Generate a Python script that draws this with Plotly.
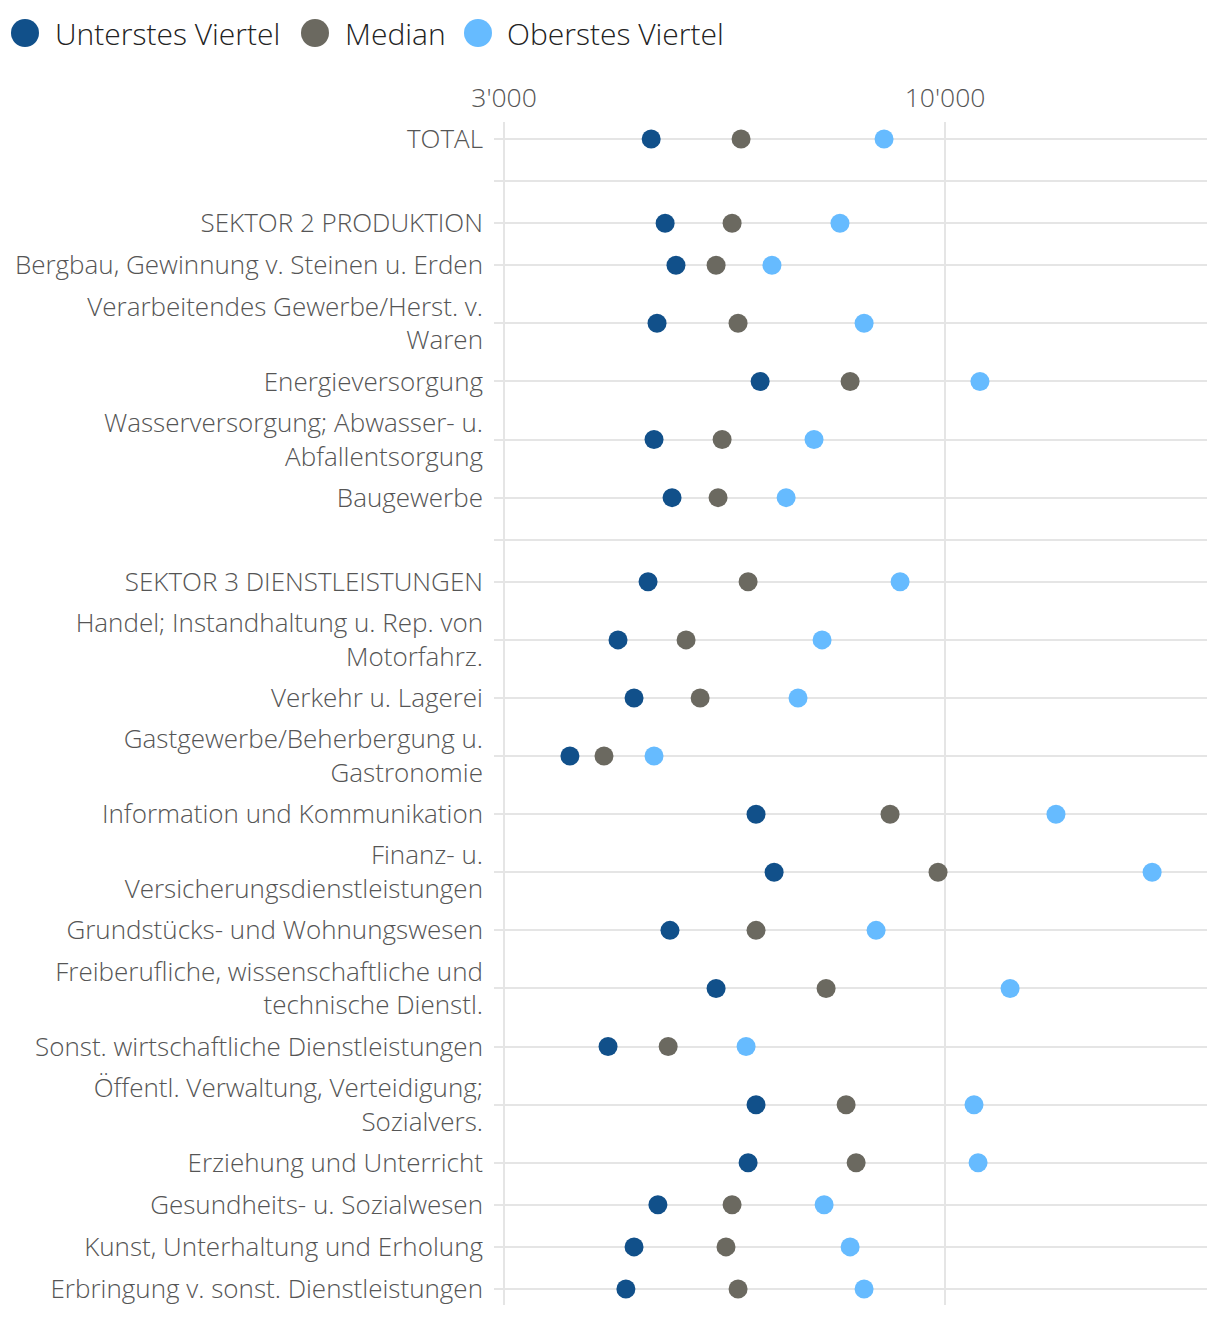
import plotly.graph_objects as go

labels = [
    "TOTAL", "",
    "SEKTOR 2 PRODUKTION",
    "Bergbau, Gewinnung v. Steinen u. Erden",
    "Verarbeitendes Gewerbe/Herst. v.<br>Waren",
    "Energieversorgung",
    "Wasserversorgung; Abwasser- u.<br>Abfallentsorgung",
    "Baugewerbe", "",
    "SEKTOR 3 DIENSTLEISTUNGEN",
    "Handel; Instandhaltung u. Rep. von<br>Motorfahrz.",
    "Verkehr u. Lagerei",
    "Gastgewerbe/Beherbergung u.<br>Gastronomie",
    "Information und Kommunikation",
    "Finanz- u.<br>Versicherungsdienstleistungen",
    "Grundstücks- und Wohnungswesen",
    "Freiberufliche, wissenschaftliche und<br>technische Dienstl.",
    "Sonst. wirtschaftliche Dienstleistungen",
    "Öffentl. Verwaltung, Verteidigung;<br>Sozialvers.",
    "Erziehung und Unterricht",
    "Gesundheits- u. Sozialwesen",
    "Kunst, Unterhaltung und Erholung",
    "Erbringung v. sonst. Dienstleistungen",
]
unterstes = [4483, None, 4657, 4797, 4555, 6036, 4518, 4746, None, 4445, 4095, 4278, 3591,
             5969, 6271, 4719, 5352, 3985, 5969, 5841, 4566, 4278, 4184]
median = [5730, None, 5591, 5352, 5683, 7717, 5441, 5381, None, 5841, 4931, 5124, 3941,
          8606, 9810, 5969, 7227, 4696, 7633, 7845, 5591, 5499, 5683]
oberstes = [8466, None, 7506, 6234, 8017, 11000, 6993, 6480, None, 8845, 7148, 6694, 4518,
            13537, 17601, 8284, 11943, 5809, 10823, 10944, 7188, 7717, 8017]
series_names = ["Unterstes Viertel", "Median", "Oberstes Viertel"]
colors = ["#11508A", "#6B6960", "#66BBFF"]
tick_vals_x = [3000, 10000]
tick_text_x = ["3'000", "10'000"]

# row positions derived from number of label lines
heights = [42 + 32 * lab.count("<br>") for lab in labels]
ypos = [0.0]
for i in range(1, len(labels)):
    ypos.append(ypos[-1] + (heights[i - 1] + heights[i]) / 2)

OFF = 8  # page body margin
W, H = 1220 - OFF, 1318 - OFF
L, R, T, B = 494 - OFF, 13, 122 - OFF, 13
pw, ph = W - L - R, H - T - B

fig = go.Figure()
for name, vals, col in zip(series_names, [unterstes, median, oberstes], colors):
    fig.add_trace(go.Scatter(
        x=vals, y=ypos, mode="markers", name=name,
        marker=dict(size=19, color=col, line=dict(width=0)),
        showlegend=False,
        hovertemplate="%{x}<extra>" + name + "</extra>",
    ))

font_family = "Open Sans"
fig.update_layout(
    width=W, height=H,
    margin=dict(l=L, r=R, t=T, b=B, autoexpand=False),
    plot_bgcolor="white", paper_bgcolor="white",
    font=dict(family=font_family, color="#555555", size=26, weight=300),
    xaxis=dict(
        type="log", side="top", automargin=False,
        range=[3.4652, 4.3106],
        tickvals=tick_vals_x, ticktext=tick_text_x,
        showgrid=True, gridcolor="#e5e5e5", gridwidth=2,
        zeroline=False, showline=False, ticks="",
        ticklabelstandoff=9,
        tickfont=dict(size=26.5, color="#555555", family=font_family, weight=300),
    ),
    yaxis=dict(
        automargin=False,
        range=[ypos[-1] + 16, -17],
        tickvals=ypos, ticktext=labels,
        showgrid=True, gridcolor="#e5e5e5", gridwidth=1.5,
        zeroline=False, showline=False, ticks="",
        ticklabelstandoff=10,
        tickfont=dict(size=26, color="#555555", family=font_family, weight=300),
    ),
)

# manual legend (large circles); pixel positions in page coordinates
legend_cx = [25, 315, 478]
legend_tx = [53, 343, 505]
legend_cy = 33
for cx, tx, name, col in zip(legend_cx, legend_tx, series_names, colors):
    xp = (cx - OFF - L) / pw
    yp = (H - B - (legend_cy - OFF)) / ph
    fig.add_shape(type="circle", xref="paper", yref="paper",
                  xsizemode="pixel", ysizemode="pixel",
                  xanchor=xp, yanchor=yp, x0=-14, x1=14, y0=-14, y1=14,
                  fillcolor=col, line=dict(width=0))
    fig.add_annotation(x=(tx - OFF - L) / pw, y=yp, xref="paper", yref="paper",
                       text=name, showarrow=False, xanchor="left", yanchor="middle",
                       font=dict(size=30, color="#222222", family=font_family, weight=300))

fig.write_html("out.html")
